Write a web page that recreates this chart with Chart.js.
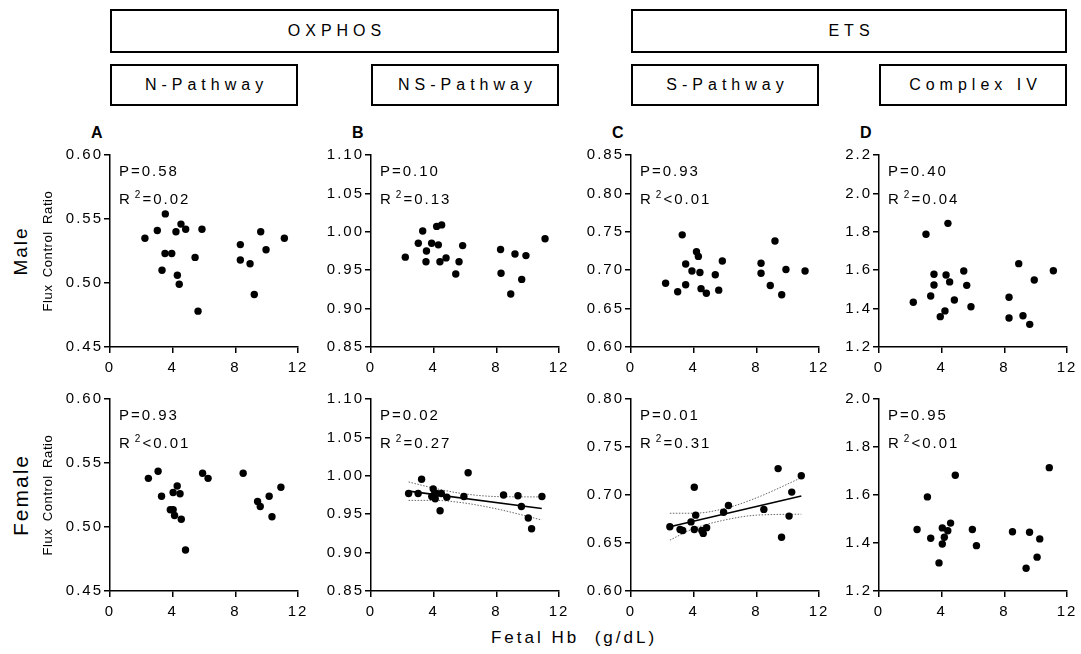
<!DOCTYPE html>
<html><head><meta charset="utf-8">
<script src="https://cdn.jsdelivr.net/npm/chart.js@4.4.1/dist/chart.umd.min.js"></script>
<style>
html,body{margin:0;padding:0;background:#fff;}
#fig{position:relative;width:1081px;height:654px;overflow:hidden;font-family:'Liberation Sans',Arial,sans-serif;color:#000;}
.box{position:absolute;border:2.5px solid #000;box-sizing:border-box;display:flex;align-items:center;justify-content:center;font-size:16px;letter-spacing:5px;padding-left:5px;}
canvas{position:absolute;}
.t{position:absolute;white-space:nowrap;line-height:1;}
.ann{font-size:15px;letter-spacing:2px;transform:translateY(-50%);}
.ann sup{font-size:10px;letter-spacing:0;vertical-align:0;position:relative;top:-6px;margin-left:3px;margin-right:2px;}
.letter{font-size:16px;font-weight:bold;transform:translateY(-50%);}
.rot{transform:translate(-50%,-50%) rotate(-90deg);}
</style>
</head><body><div id="fig"></div>
<script>
// ---------- data ----------
const xTickLabels = ['0','4','8','12'];
const yTicksN   = ['0.45','0.50','0.55','0.60'];
const yTicksNS  = ['0.85','0.90','0.95','1.00','1.05','1.10'];
const yTicksSMale = ['0.60','0.65','0.70','0.75','0.80','0.85'];
const yTicksSFem  = ['0.60','0.65','0.70','0.75','0.80'];
const yTicksCIVMale = ['1.2','1.4','1.6','1.8','2.0','2.2'];
const yTicksCIVFem  = ['1.2','1.4','1.6','1.8','2.0'];

const groupHeaders = ['OXPHOS','ETS'];
const panelHeaders = ['N-Pathway','NS-Pathway','S-Pathway','Complex\u00a0IV'];
const panelLetters = ['A','B','C','D'];
const rowLabels = ['Male','Female'];
const yAxisTitle = 'Flux Control Ratio';
const xAxisTitle = 'Fetal Hb\u00a0\u00a0(g/dL)';

const pMale  = ['0.58','0.10','0.93','0.40'];
const r2Male = ['=0.02','=0.13','<0.01','=0.04'];
const pFem   = ['0.93','0.02','0.01','0.95'];
const r2Fem  = ['<0.01','=0.27','=0.31','<0.01'];

// Male
const nMaleHb  = [2.23,3.02,3.53,4.21,4.53,4.83,5.87,8.32,9.62,9.96,11.13,3.51,3.94,5.43,3.32,4.30,4.42,5.62,8.32,8.94,9.21];
const nMaleFcr = [0.535,0.541,0.554,0.540,0.546,0.542,0.542,0.530,0.540,0.526,0.535,0.523,0.523,0.520,0.510,0.506,0.499,0.478,0.518,0.515,0.491];
const nsMaleHb  = [3.30,4.19,4.51,3.02,3.87,4.30,5.85,3.54,2.19,3.51,4.40,4.79,5.62,5.41,8.27,11.11,9.19,9.89,8.30,9.62,8.92];
const nsMaleFcr = [1.001,1.007,1.009,0.985,0.985,0.983,0.982,0.975,0.967,0.961,0.961,0.966,0.961,0.945,0.977,0.991,0.971,0.969,0.946,0.938,0.919];
const sMaleHb  = [3.27,4.18,9.19,2.21,2.98,3.49,3.49,3.89,4.30,4.40,4.47,4.81,5.38,5.60,5.83,8.30,8.30,8.89,9.89,9.62,11.11];
const sMaleFcr = [0.746,0.724,0.738,0.683,0.672,0.681,0.708,0.699,0.718,0.697,0.676,0.670,0.694,0.674,0.712,0.709,0.696,0.680,0.701,0.668,0.699];
const civMaleHb  = [3.00,4.40,2.19,3.30,3.51,3.51,3.91,4.21,4.28,4.51,4.81,5.41,5.60,5.87,8.30,8.30,8.92,9.19,9.62,9.91,11.13];
const civMaleFcr = [1.787,1.844,1.433,1.466,1.579,1.523,1.358,1.388,1.575,1.539,1.445,1.596,1.521,1.410,1.459,1.351,1.634,1.363,1.318,1.549,1.597];
// Female
const nFemHb  = [2.45,3.07,3.29,3.85,4.03,4.12,4.03,4.29,4.47,4.55,4.82,5.91,6.26,8.50,9.42,9.59,10.16,10.34,10.91];
const nFemFcr = [0.538,0.5435,0.524,0.5135,0.5135,0.509,0.527,0.532,0.526,0.506,0.482,0.542,0.538,0.542,0.520,0.516,0.524,0.508,0.531];
const nsFemHb  = [2.40,3.01,3.23,3.88,3.97,4.06,4.10,4.19,4.49,4.41,4.84,5.93,6.20,8.46,9.38,9.60,10.04,10.25,10.91];
const nsFemFcr = [0.977,0.977,0.9955,0.973,0.983,0.976,0.970,0.977,0.977,0.9545,0.972,0.973,1.004,0.975,0.974,0.960,0.945,0.931,0.973];
const sFemHb  = [2.48,3.13,3.30,3.83,4.04,4.13,4.04,4.52,4.61,4.83,5.91,6.22,8.48,9.39,9.61,10.09,10.26,10.87];
const sFemFcr = [0.667,0.664,0.663,0.672,0.708,0.679,0.664,0.663,0.660,0.666,0.682,0.689,0.685,0.7275,0.656,0.678,0.703,0.720];
const civFemHb  = [2.43,3.09,3.30,3.83,4.04,4.04,4.17,4.39,4.57,4.87,5.96,6.22,8.52,9.39,9.61,10.09,10.26,10.87];
const civFemFcr = [1.456,1.592,1.420,1.317,1.463,1.396,1.424,1.451,1.483,1.682,1.456,1.389,1.447,1.295,1.445,1.341,1.417,1.714];
// Regression lines and 95% bands
const nsFemFitHb  = [2.4,10.9];
const nsFemFitFcr = [0.980,0.9575];
const nsFemBandHb = [2.4,4,5.8,8,10.9];
const nsFemBandHi = [0.992,0.984,0.977,0.973,0.9725];
const nsFemBandLo = [0.968,0.968,0.965,0.957,0.9425];
const sFemFitHb  = [2.48,10.87];
const sFemFitFcr = [0.667,0.699];
const sFemBandHb = [2.48,4,6,8,10.87];
const sFemBandHi = [0.681,0.681,0.686,0.697,0.718];
const sFemBandLo = [0.653,0.665,0.674,0.679,0.680];

// ---------- layout ----------
const PL = [110,371,631,879];   // plot-area left edges
const PW = 188, PH = 192;
const ROWTOP = [155,399];
const YW = 62, TP = 12, RP = 16, XH = 34;

Chart.defaults.font.family = "'Liberation Sans', Arial, sans-serif";
Chart.defaults.font.size = 15;
Chart.defaults.color = '#000';

const fig = document.getElementById('fig');
function addText(html, cls, left, top, extra) {
  const d = document.createElement('div');
  d.className = 't ' + cls;
  d.innerHTML = html;
  d.style.left = left + 'px'; d.style.top = top + 'px';
  if (extra) Object.assign(d.style, extra);
  fig.appendChild(d);
  return d;
}
function addBox(text, l, r, t, b) {
  const d = document.createElement('div');
  d.className = 'box';
  d.textContent = text;
  Object.assign(d.style, {left: l+'px', top: t+'px', width: (r-l)+'px', height: (b-t)+'px'});
  fig.appendChild(d);
}
addBox(groupHeaders[0], PL[0], PL[1]+PW, 9, 53);
addBox(groupHeaders[1], PL[2], PL[3]+PW, 9, 53);
for (let i=0;i<4;i++) addBox(panelHeaders[i], PL[i], PL[i]+PW, 64, 106);
for (let i=0;i<4;i++) addText(panelLetters[i], 'letter', PL[i]-19, 133);

const spacing = {id:'spacing', beforeDraw(chart){ chart.ctx.letterSpacing = '2px'; }};

function pts(xs, ys){ return xs.map((x,i)=>({x:x, y:ys[i]})); }

function panel(col, row, xs, ys, yTicks, extra) {
  const c = document.createElement('canvas');
  const W = YW+PW+RP, H = TP+PH+XH;
  c.width = W; c.height = H;
  c.style.width = W+'px'; c.style.height = H+'px';
  c.style.left = (PL[col]-YW)+'px'; c.style.top = (ROWTOP[row]-TP)+'px';
  fig.appendChild(c);
  const yv = yTicks.map(Number);
  const datasets = [{
    data: pts(xs, ys), pointRadius: 3.7, pointHoverRadius: 3.7,
    pointBackgroundColor: '#000', pointBorderWidth: 0, showLine: false, clip: false
  }].concat(extra || []);
  const grid = {display:true, drawOnChartArea:false, drawTicks:true, tickLength:6, color:'#000', lineWidth:1.5};
  new Chart(c.getContext('2d'), {
    type: 'scatter',
    data: {datasets},
    options: {
      responsive:false, animation:false, devicePixelRatio:1, events:[],
      layout:{padding:{top:TP, right:RP, left:0, bottom:0}},
      plugins:{legend:{display:false}, tooltip:{enabled:false}},
      scales:{
        x:{type:'linear', min:0, max:12,
           afterBuildTicks: s => { s.ticks = xTickLabels.map(v=>({value:Number(v)})); },
           afterFit: s => { s.height = XH; },
           ticks:{padding:6, maxRotation:0, callback:(v,i)=>xTickLabels[i]},
           grid, border:{display:true, color:'#000', width:1.5}},
        y:{type:'linear', min:yv[0], max:yv[yv.length-1],
           afterBuildTicks: s => { s.ticks = yv.map(v=>({value:v})); },
           afterFit: s => { s.width = YW; },
           ticks:{padding:1, callback:(v,i)=>yTicks[i]},
           grid, border:{display:true, color:'#000', width:1.5}}
      }
    },
    plugins:[spacing]
  });
  const pv = row===0 ? pMale : pFem, rv = row===0 ? r2Male : r2Fem;
  addText('P=' + pv[col], 'ann', PL[col]+9, ROWTOP[row]+15);
  addText('R<sup>2</sup>' + rv[col].replace('<','&lt;'), 'ann', PL[col]+9, ROWTOP[row]+43);
}

function fitSets(fx, fy, bx, hi, lo) {
  const band = d => ({type:'line', data: d, borderColor:'#666', borderWidth:1, borderDash:[1.5,1.5],
                       pointRadius:0, tension:0.4, cubicInterpolationMode:'monotone', fill:false});
  return [
    {type:'line', data: pts(fx, fy), borderColor:'#000', borderWidth:1.6, pointRadius:0, fill:false},
    band(pts(bx, hi)), band(pts(bx, lo))
  ];
}

panel(0,0,nMaleHb,nMaleFcr,yTicksN);
panel(1,0,nsMaleHb,nsMaleFcr,yTicksNS);
panel(2,0,sMaleHb,sMaleFcr,yTicksSMale);
panel(3,0,civMaleHb,civMaleFcr,yTicksCIVMale);
panel(0,1,nFemHb,nFemFcr,yTicksN);
panel(1,1,nsFemHb,nsFemFcr,yTicksNS, fitSets(nsFemFitHb,nsFemFitFcr,nsFemBandHb,nsFemBandHi,nsFemBandLo));
panel(2,1,sFemHb,sFemFcr,yTicksSFem, fitSets(sFemFitHb,sFemFitFcr,sFemBandHb,sFemBandHi,sFemBandLo));
panel(3,1,civFemHb,civFemFcr,yTicksCIVFem);

for (let r=0;r<2;r++) {
  const cy = ROWTOP[r] + PH/2;
  addText(rowLabels[r], 'rot', 20, cy, {fontSize: (r===0?'19px':'21px'), letterSpacing:'2px'});
  addText(yAxisTitle, 'rot', 47, cy, {fontSize:'13px', letterSpacing:'0.6px', wordSpacing:'3px'});
}
addText(xAxisTitle, '', 574, 637, {fontSize:'17px', letterSpacing:'3px', transform:'translate(-50%,-50%)'});
</script>
</body></html>
